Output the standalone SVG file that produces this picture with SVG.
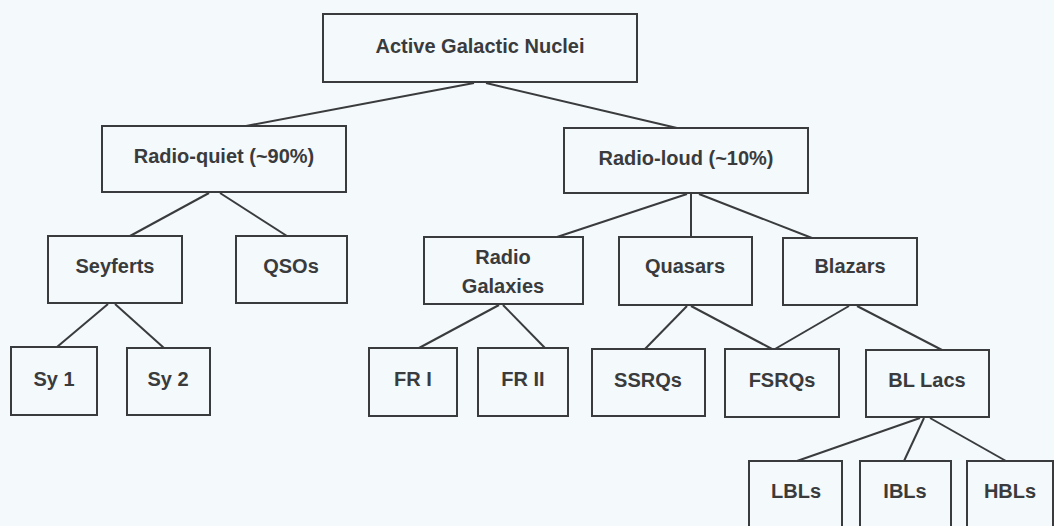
<svg xmlns="http://www.w3.org/2000/svg" width="1054" height="526" viewBox="0 0 1054 526">
<style>
.bg{fill:#f4f9fc}
.n rect{fill:none;stroke:#3a3b3c;stroke-width:2}
.n text{font-family:"Liberation Sans",Arial,sans-serif;font-weight:bold;font-size:20px;fill:#3a3b3c;text-anchor:middle}
#connectors line{stroke:#3a3b3c;stroke-width:2;fill:none}
</style>
<rect class="bg" x="0" y="0" width="1054" height="526"/>
<g id="connectors">
<line x1="474" y1="83" x2="246" y2="126"/>
<line x1="486" y1="83" x2="677" y2="128"/>
<line x1="209" y1="193" x2="130" y2="236"/>
<line x1="220" y1="193" x2="287" y2="236"/>
<line x1="687" y1="194" x2="557" y2="237"/>
<line x1="691" y1="194" x2="691" y2="237"/>
<line x1="699" y1="194" x2="812" y2="238"/>
<line x1="108" y1="304" x2="57" y2="347"/>
<line x1="115" y1="304" x2="164" y2="348"/>
<line x1="499" y1="305" x2="419" y2="348"/>
<line x1="503" y1="305" x2="545" y2="348"/>
<line x1="687" y1="306" x2="645" y2="349"/>
<line x1="691" y1="306" x2="772" y2="349"/>
<line x1="849" y1="306" x2="775" y2="349"/>
<line x1="857" y1="306" x2="942" y2="350"/>
<line x1="920" y1="418" x2="797" y2="461"/>
<line x1="924" y1="418" x2="904" y2="461"/>
<line x1="930" y1="418" x2="1006" y2="461"/>
</g>
<g id="agn" class="n"><rect x="323" y="14" width="314" height="68"/><text x="480" y="53">Active Galactic Nuclei</text></g>
<g id="radio-quiet" class="n"><rect x="102" y="126" width="244" height="66"/><text x="224" y="163">Radio-quiet (~90%)</text></g>
<g id="radio-loud" class="n"><rect x="564" y="128" width="244" height="65"/><text x="686" y="165">Radio-loud (~10%)</text></g>
<g id="seyferts" class="n"><rect x="48" y="236" width="134" height="67"/><text x="115" y="273">Seyferts</text></g>
<g id="qsos" class="n"><rect x="236" y="236" width="111" height="67"/><text x="291" y="273">QSOs</text></g>
<g id="radio-galaxies" class="n"><rect x="424" y="237" width="159" height="67"/><text x="503" y="264">Radio</text><text x="503" y="293">Galaxies</text></g>
<g id="quasars" class="n"><rect x="619" y="237" width="133" height="68"/><text x="685" y="273">Quasars</text></g>
<g id="blazars" class="n"><rect x="783" y="238" width="134" height="67"/><text x="850" y="273">Blazars</text></g>
<g id="sy1" class="n"><rect x="11" y="347" width="86" height="68"/><text x="54" y="386">Sy 1</text></g>
<g id="sy2" class="n"><rect x="127" y="348" width="83" height="67"/><text x="168" y="386">Sy 2</text></g>
<g id="fr1" class="n"><rect x="369" y="348" width="88" height="68"/><text x="413" y="386">FR I</text></g>
<g id="fr2" class="n"><rect x="478" y="348" width="90" height="68"/><text x="523" y="386">FR II</text></g>
<g id="ssrqs" class="n"><rect x="592" y="349" width="113" height="67"/><text x="648" y="387">SSRQs</text></g>
<g id="fsrqs" class="n"><rect x="725" y="349" width="114" height="68"/><text x="782" y="387">FSRQs</text></g>
<g id="bllacs" class="n"><rect x="866" y="350" width="123" height="67"/><text x="927" y="387">BL Lacs</text></g>
<g id="lbls" class="n"><rect x="749" y="461" width="93" height="80"/><text x="796" y="498">LBLs</text></g>
<g id="ibls" class="n"><rect x="860" y="461" width="91" height="80"/><text x="905" y="498">IBLs</text></g>
<g id="hbls" class="n"><rect x="967" y="461" width="86" height="80"/><text x="1010" y="498">HBLs</text></g>
</svg>
